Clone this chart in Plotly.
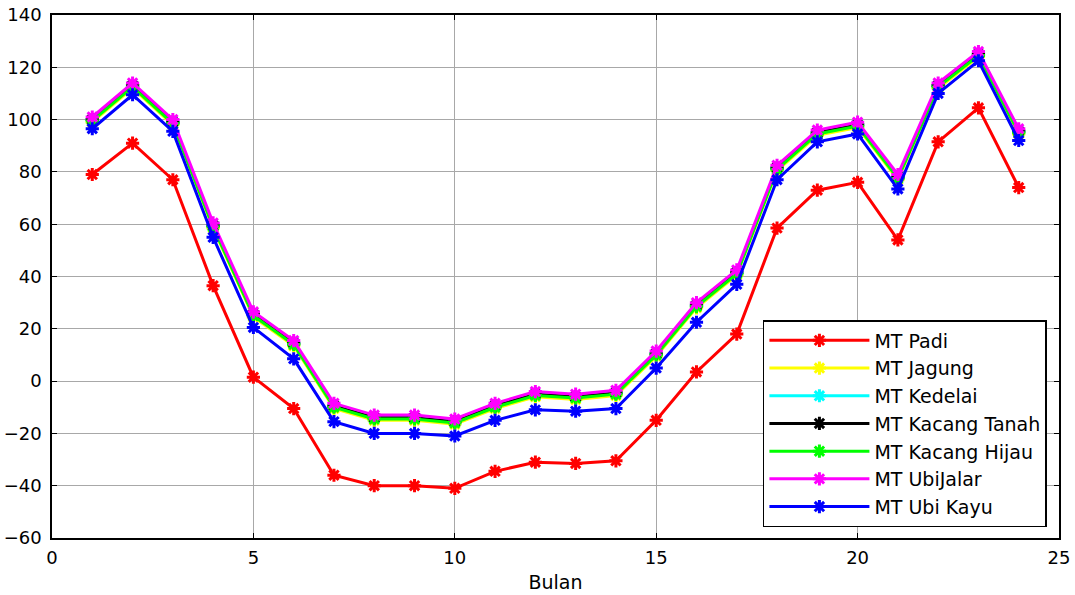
import plotly.graph_objects as go

bulan = list(range(1, 25))

mt_padi = [79, 91, 77, 36.5, 1.5, -10.5, -36, -40, -40, -41, -34.5, -31,
           -31.5, -30.5, -15, 3.5, 18, 58.5, 73, 76, 54, 91.5, 104.5, 74]
mt_jagung = [99, 112, 98, 58.5, 24.5, 13.5, -10.5, -15, -15, -16.5, -10.5, -6,
             -7, -5.5, 9.5, 28, 40.5, 80.5, 94, 97, 77, 112, 124, 94.5]
mt_kedelai = [100, 113, 99, 59.5, 25.5, 14.5, -9.5, -14, -14, -15.5, -9.5, -5,
              -6, -4.5, 10.5, 29, 41.5, 81.5, 95, 98, 78, 113, 125, 95.5]
mt_kacang_tanah = [100, 113, 99, 59.5, 25.5, 14.5, -9.5, -14, -14, -15.5, -9.5, -5,
                   -6, -4.5, 10.5, 29, 41.5, 81.5, 95, 98, 78, 113, 125, 95.5]
mt_kacang_hijau = [99.5, 112.5, 98.5, 59, 25, 14, -10, -14.5, -14.5, -16, -10, -5.5,
                   -6.5, -5, 10, 28.5, 41, 81, 94.5, 97.5, 77.5, 112.5, 124.5, 95]
mt_ubijalar = [101, 114, 100, 60.5, 26.5, 15.5, -8.5, -13, -13, -14.5, -8.5, -4,
               -5, -3.5, 11.5, 30, 42.5, 82.5, 96, 99, 79, 114, 126, 96.5]
mt_ubi_kayu = [96.5, 109.5, 95.5, 55, 20.5, 8.5, -15.5, -20, -20, -21, -15, -11,
               -11.5, -10.5, 5, 22.5, 37, 77, 91.5, 94.5, 73.5, 110, 122.5, 92]

series = [
    ("MT Padi", mt_padi, "#ff0000"),
    ("MT Jagung", mt_jagung, "#ffff00"),
    ("MT Kedelai", mt_kedelai, "#00ffff"),
    ("MT Kacang Tanah", mt_kacang_tanah, "#000000"),
    ("MT Kacang Hijau", mt_kacang_hijau, "#00ff00"),
    ("MT UbiJalar", mt_ubijalar, "#ff00ff"),
    ("MT Ubi Kayu", mt_ubi_kayu, "#0000ff"),
]

x_ticks = [0, 5, 10, 15, 20, 25]
y_ticks = [-60, -40, -20, 0, 20, 40, 60, 80, 100, 120, 140]

fig = go.Figure()
for name, vals, col in series:
    fig.add_trace(go.Scatter(
        x=bulan, y=vals, name=name, mode="lines+markers",
        line=dict(color=col, width=3),
        marker=dict(symbol="asterisk-open", size=11, color=col,
                    line=dict(color=col, width=3)),
    ))

font = dict(family="DejaVu Sans, sans-serif", size=18, color="#000000")
lfont = dict(family="DejaVu Sans, sans-serif", size=19, color="#000000")

fig.update_layout(
    width=1075, height=595,
    margin=dict(l=52, r=16, t=15, b=57),
    paper_bgcolor="white", plot_bgcolor="white",
    font=font,
    showlegend=True,
    legend=dict(x=0.988, y=0.021, xanchor="right", yanchor="bottom",
                bgcolor="white", bordercolor="#000000", borderwidth=1.5,
                font=lfont, tracegroupgap=0, itemwidth=100),
    xaxis=dict(range=[0, 25], tickvals=x_ticks, showgrid=True,
               gridcolor="#a8a8a8", gridwidth=1, zeroline=False,
               showline=True, linecolor="#000000", linewidth=1.5, mirror="allticks",
               ticks="inside", ticklen=5, tickcolor="#000000",
               ticklabelstandoff=3, automargin=False,
               title=dict(text="Bulan", font=lfont, standoff=8)),
    yaxis=dict(range=[-60, 140], tickvals=y_ticks, showgrid=True,
               gridcolor="#a8a8a8", gridwidth=1, zeroline=False,
               showline=True, linecolor="#000000", linewidth=1.5, mirror="allticks",
               ticks="inside", ticklen=5, tickcolor="#000000",
               ticklabelstandoff=5, automargin=False),
)

fig.write_html("out.html")
